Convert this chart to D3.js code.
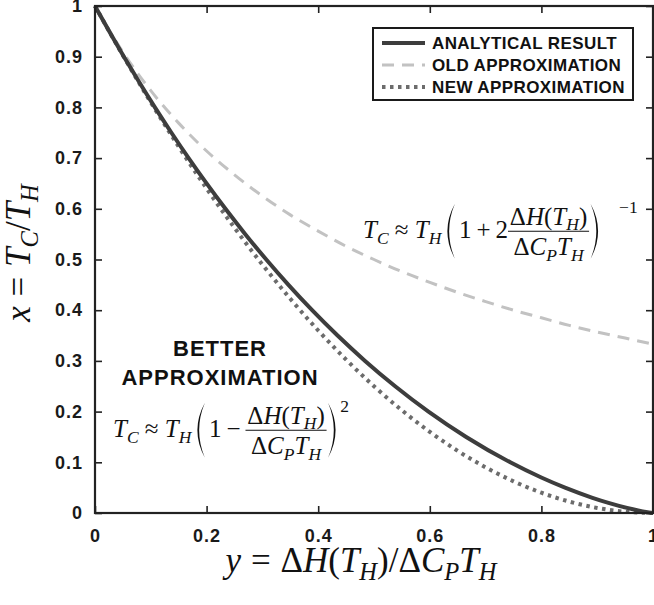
<!DOCTYPE html>
<meta charset="utf-8">
<style>
    body { margin: 0; background: #fff; }
    svg { display: block; }
    .axis text {
        font-family: "Liberation Sans", Arial, sans-serif;
        font-weight: bold;
        font-size: 18px;
        letter-spacing: 1px;
        fill: #1a1a1a;
    }
    .axis line { stroke: #222; stroke-width: 1.6; }
    .axis path { display: none; }
    .legend text {
        font-family: "Liberation Sans", Arial, sans-serif;
        font-weight: bold;
        font-size: 17px;
        letter-spacing: 0.4px;
        fill: #111;
    }
    .math text {
        font-family: "Liberation Serif", "Times New Roman", serif;
        fill: #111;
    }
</style>
<svg width="654" height="605"></svg>
<script src="https://cdn.jsdelivr.net/npm/d3@7"></script>
<script>

    // horizontal axis: y = dH(TH) / dCp TH
    var approxY = [0, 0.05, 0.1, 0.15, 0.2, 0.25, 0.3, 0.35, 0.4, 0.45, 0.5,
                   0.55, 0.6, 0.65, 0.7, 0.75, 0.8, 0.85, 0.9, 0.95, 1];
    var oldApprox = [1, 0.909, 0.833, 0.769, 0.714, 0.667, 0.625, 0.588, 0.556, 0.526, 0.5,
                     0.476, 0.455, 0.435, 0.417, 0.4, 0.385, 0.370, 0.357, 0.345, 0.333];
    var newApprox = [1, 0.9025, 0.81, 0.7225, 0.64, 0.5625, 0.49, 0.4225, 0.36, 0.3025, 0.25,
                     0.2025, 0.16, 0.1225, 0.09, 0.0625, 0.04, 0.0225, 0.01, 0.0025, 0];
    var analyticalY = [0, 0.0254, 0.0518, 0.0791, 0.1074, 0.137, 0.1678, 0.2, 0.2338, 0.2693,
                       0.3069, 0.3467, 0.3891, 0.4347, 0.484, 0.5379, 0.5976, 0.6652, 0.7442,
                       0.7998, 0.8423, 0.8915, 0.9202, 0.9535, 0.9734, 0.9875, 1];
    var analyticalX = [1, 0.95, 0.9, 0.85, 0.8, 0.75, 0.7, 0.65, 0.6, 0.55,
                       0.5, 0.45, 0.4, 0.35, 0.3, 0.25, 0.2, 0.15, 0.1,
                       0.07, 0.05, 0.03, 0.02, 0.01, 0.005, 0.002, 0];
    var seriesNames = ["ANALYTICAL RESULT", "OLD APPROXIMATION", "NEW APPROXIMATION"];
    var xTicks = [0, 0.2, 0.4, 0.6, 0.8, 1];
    var xTickLabels = ["0", "0.2", "0.4", "0.6", "0.8", "1"];
    var yTicks = [0, 0.1, 0.2, 0.3, 0.4, 0.5, 0.6, 0.7, 0.8, 0.9, 1];
    var yTickLabels = ["0", "0.1", "0.2", "0.3", "0.4", "0.5", "0.6", "0.7", "0.8", "0.9", "1"];

    var svg = d3.select("svg"),
        margin = {top: 6, right: 1, bottom: 92, left: 95},
        width = +svg.attr("width") - margin.left - margin.right,
        height = +svg.attr("height") - margin.top - margin.bottom;

    var x = d3.scaleLinear().domain([0, 1]).range([0, width]),
        y = d3.scaleLinear().domain([0, 1]).range([height, 0]);

    var g = svg.append("g")
        .attr("transform", "translate(" + margin.left + "," + margin.top + ")");

    function toPoints(xs, ys) {
        return xs.map(function(v, i) { return [v, ys[i]]; });
    }

    var line = d3.line()
        .x(function(d) { return x(d[0]); })
        .y(function(d) { return y(d[1]); })
        .curve(d3.curveMonotoneX);

    var styles = [
        {stroke: "#3d3d3d", width: 4, dash: null},
        {stroke: "#c2c2c2", width: 3, dash: "12,8"},
        {stroke: "#6c6c6c", width: 4, dash: "3.5,4.5"}
    ];
    var series = [
        toPoints(analyticalY, analyticalX),
        toPoints(approxY, oldApprox),
        toPoints(approxY, newApprox)
    ];

    // draw old first so the darker curves sit on top
    [1, 2, 0].forEach(function(i) {
        g.append("path")
            .datum(series[i])
            .attr("fill", "none")
            .attr("stroke", styles[i].stroke)
            .attr("stroke-width", styles[i].width)
            .attr("stroke-dasharray", styles[i].dash)
            .attr("d", line);
    });

    // axes, ticks pointing inward on all four sides
    g.append("g")
        .attr("class", "axis")
        .attr("transform", "translate(0," + height + ")")
        .call(d3.axisBottom(x).tickValues(xTicks).tickSize(-7).tickPadding(16)
            .tickFormat(function(d, i) { return xTickLabels[i]; }));
    g.append("g")
        .attr("class", "axis")
        .call(d3.axisLeft(y).tickValues(yTicks).tickSize(-7).tickPadding(12)
            .tickFormat(function(d, i) { return yTickLabels[i]; }));
    g.append("g")
        .attr("class", "axis")
        .call(d3.axisTop(x).tickValues(xTicks).tickSize(-7).tickFormat(""))
        .selectAll("text").remove();
    g.append("g")
        .attr("class", "axis")
        .attr("transform", "translate(" + width + ",0)")
        .call(d3.axisRight(y).tickValues(yTicks).tickSize(-7).tickFormat(""))
        .selectAll("text").remove();

    g.append("rect")
        .attr("width", width)
        .attr("height", height)
        .attr("fill", "none")
        .attr("stroke", "#222")
        .attr("stroke-width", 2.2);

    // legend
    var legend = svg.append("g").attr("class", "legend")
        .attr("transform", "translate(373,28)");
    legend.append("rect")
        .attr("width", 260).attr("height", 72)
        .attr("fill", "#fff").attr("stroke", "#1a1a1a").attr("stroke-width", 2);
    seriesNames.forEach(function(name, i) {
        var row = legend.append("g").attr("transform", "translate(0," + (15 + i * 22) + ")");
        row.append("line")
            .attr("x1", 9).attr("x2", 52)
            .attr("stroke", styles[i].stroke)
            .attr("stroke-width", styles[i].width)
            .attr("stroke-dasharray", styles[i].dash);
        row.append("text")
            .attr("x", 59).attr("dy", "0.36em")
            .text(name);
    });

    // bold annotation
    svg.append("g").attr("class", "legend")
        .selectAll("text")
        .data(["BETTER", "APPROXIMATION"])
        .enter().append("text")
        .attr("x", 220)
        .attr("y", function(d, i) { return 356 + i * 29; })
        .attr("text-anchor", "middle")
        .style("font-size", "22px")
        .style("letter-spacing", "1px")
        .text(function(d) { return d; });

    // tiny math typesetter: tokens laid out left to right from a baseline at 0
    function mathRow(parent, tokens, size) {
        var row = parent.append("g"), cx = 0;
        var axisY = -0.27 * size;
        tokens.forEach(function(tk) {
            if (tk.sp !== undefined) { cx += tk.sp * size; return; }
            if (tk.frac) {
                var num = mathRow(row, tk.frac[0], size),
                    den = mathRow(row, tk.frac[1], size);
                var w = Math.max(num.w, den.w) + 0.15 * size;
                num.g.attr("transform", "translate(" + (cx + (w - num.w) / 2) + "," + (axisY - 0.26 * size) + ")");
                den.g.attr("transform", "translate(" + (cx + (w - den.w) / 2) + "," + (axisY + 0.95 * size) + ")");
                row.append("line")
                    .attr("x1", cx).attr("x2", cx + w)
                    .attr("y1", axisY).attr("y2", axisY)
                    .attr("stroke", "#111").attr("stroke-width", 1);
                cx += w;
                return;
            }
            if (tk.paren) {
                var h = 2.2 * size, pw = 0.4 * size, t = 0.07 * size;
                var top = axisY - h / 2, bot = axisY + h / 2, mid = axisY;
                var x0 = tk.paren === "(" ? cx + pw * 0.85 : cx + pw * 0.15,
                    dir = tk.paren === "(" ? -1 : 1,
                    bulge = pw * 0.75;
                row.append("path")
                    .attr("fill", "#111")
                    .attr("d", "M" + x0 + "," + top +
                        "Q" + (x0 + dir * bulge * 2) + "," + mid + " " + x0 + "," + bot +
                        "Q" + (x0 + dir * (bulge * 2 - t * 2)) + "," + mid + " " + x0 + "," + top + "Z");
                cx += pw;
                return;
            }
            var fs = size, dy = 0;
            if (tk.sub) { fs = 0.7 * size; dy = 0.22 * size; }
            if (tk.sup) { fs = 0.7 * size; dy = axisY - 0.72 * size; }
            var txt = row.append("text")
                .attr("x", cx).attr("y", dy)
                .style("font-size", fs + "px")
                .style("font-style", tk.i ? "italic" : "normal")
                .text(tk.t);
            cx += txt.node().getComputedTextLength();
        });
        return {g: row, w: cx};
    }

    var fracTokens = [
        [{t: "\u0394"}, {t: "H", i: 1}, {t: "("}, {t: "T", i: 1}, {t: "H", i: 1, sub: 1}, {t: ")"}],
        [{t: "\u0394"}, {t: "C", i: 1}, {t: "P", i: 1, sub: 1}, {t: "T", i: 1}, {t: "H", i: 1, sub: 1}]
    ];
    var lhs = [{t: "T", i: 1}, {t: "C", i: 1, sub: 1}, {sp: 0.25}, {t: "\u2248"}, {sp: 0.25},
               {t: "T", i: 1}, {t: "H", i: 1, sub: 1}, {sp: 0.2}];

    var math = svg.append("g").attr("class", "math");

    var f1 = mathRow(math, lhs.concat([{paren: "("}, {sp: 0.1}, {t: "1"}, {sp: 0.2}, {t: "+"},
        {sp: 0.2}, {t: "2"}, {frac: fracTokens}, {paren: ")"}, {sp: 0.8}, {t: "\u22121", sup: 1}]), 25);
    f1.g.attr("transform", "translate(363,238)");

    var f2 = mathRow(math, lhs.concat([{paren: "("}, {sp: 0.1}, {t: "1"}, {sp: 0.2}, {t: "\u2212"},
        {sp: 0.2}, {frac: fracTokens}, {paren: ")"}, {sp: 0.15}, {t: "2", sup: 1}]), 25);
    f2.g.attr("transform", "translate(113,437)");

    // axis titles
    var xt = mathRow(math, [{t: "y", i: 1}, {sp: 0.28}, {t: "="}, {sp: 0.28}, {t: "\u0394"}, {t: "H", i: 1},
        {t: "("}, {t: "T", i: 1}, {t: "H", i: 1, sub: 1}, {t: ")"}, {t: "/"}, {t: "\u0394"},
        {t: "C", i: 1}, {t: "P", i: 1, sub: 1}, {t: "T", i: 1}, {t: "H", i: 1, sub: 1}], 35);
    xt.g.attr("transform", "translate(" + (361 - xt.w / 2) + ",572)");

    var yt = mathRow(math, [{t: "x", i: 1}, {sp: 0.28}, {t: "="}, {sp: 0.28}, {t: "T", i: 1},
        {t: "C", i: 1, sub: 1}, {t: "/"}, {t: "T", i: 1}, {t: "H", i: 1, sub: 1}], 35);
    yt.g.attr("transform", "translate(30," + (253 + yt.w / 2) + ") rotate(-90)");
</script>
